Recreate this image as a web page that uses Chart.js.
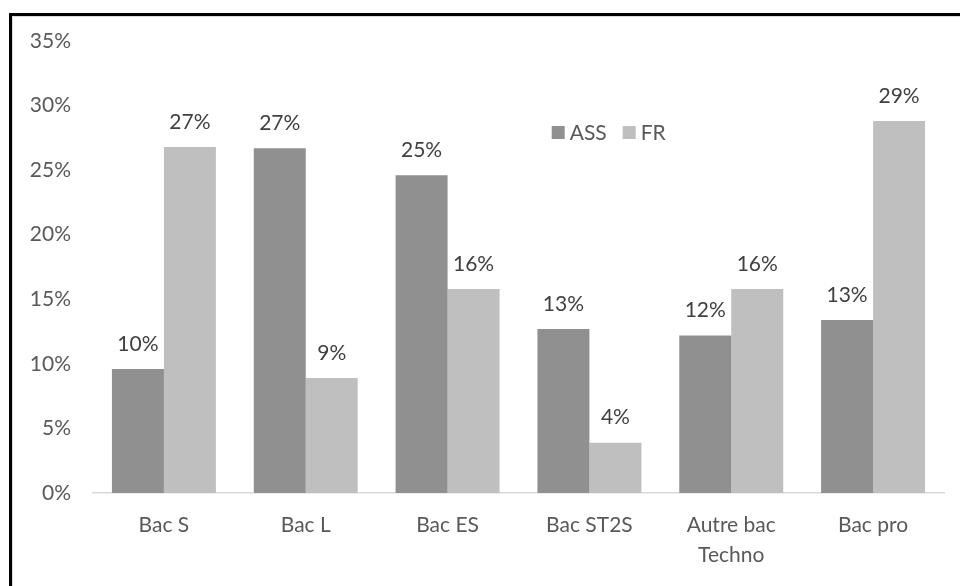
<!DOCTYPE html>
<html>
<head>
<meta charset="utf-8">
<script src="https://cdn.jsdelivr.net/npm/chart.js@4/dist/chart.umd.min.js"></script>
<style>
  html, body { margin: 0; padding: 0; background: #fff; overflow: hidden; }
  #wrap { position: relative; width: 960px; height: 586px; overflow: hidden; }
  #frame { position: absolute; left: 9px; top: 13px; width: 1100px; height: 1100px;
           border: 3px solid #000; box-shadow: inset 1px 1px 0 #d9d9d9; box-sizing: border-box; }
  #c { position: absolute; left: 0; top: 0; }
</style>
</head>
<body>
<div id="wrap">
  <div id="frame"></div>
  <canvas id="c" width="960" height="586"></canvas>
</div>
<script>
const categories = ["Bac S", "Bac L", "Bac ES", "Bac ST2S", ["Autre bac", "Techno"], "Bac pro"];
const seriesNames = ["ASS", "FR"];
const assValues = [9.6, 26.7, 24.6, 12.7, 12.2, 13.4];
const frValues = [26.8, 8.9, 15.8, 3.9, 15.8, 28.8];
const seriesColors = ["#909090", "#bfbfbf"];
const yTicks = [0, 5, 10, 15, 20, 25, 30, 35];

const FONT = "Lato, 'Noto Sans', sans-serif";

const dataLabelPlugin = {
  id: "dataLabels",
  afterDatasetsDraw(chart) {
    const ctx = chart.ctx;
    ctx.save();
    ctx.font = "21px " + FONT;
    ctx.fillStyle = "#404040";
    ctx.textAlign = "center";
    ctx.textBaseline = "middle";
    chart.data.datasets.forEach((ds, di) => {
      const meta = chart.getDatasetMeta(di);
      meta.data.forEach((bar, i) => {
        const v = ds.data[i];
        ctx.fillText(Math.round(v) + "%", bar.x, bar.y - 25);
      });
    });
    ctx.restore();
  }
};

const legendPlugin = {
  id: "insideLegend",
  afterDraw(chart) {
    const ctx = chart.ctx;
    const ca = chart.chartArea;
    let x = ca.left + (ca.right - ca.left) * 0.539;
    const y = ca.top + 91;
    ctx.save();
    ctx.font = "21px " + FONT;
    ctx.textBaseline = "middle";
    ctx.textAlign = "left";
    chart.data.datasets.forEach((ds) => {
      ctx.fillStyle = ds.backgroundColor;
      ctx.fillRect(x, y - 6, 13, 13);
      ctx.fillStyle = "#595959";
      ctx.fillText(ds.label, x + 18, y + 1);
      x += 18 + ctx.measureText(ds.label).width + 16;
    });
    ctx.restore();
  }
};

new Chart(document.getElementById("c"), {
  type: "bar",
  data: {
    labels: categories,
    datasets: [
      { label: seriesNames[0], data: assValues, backgroundColor: seriesColors[0] },
      { label: seriesNames[1], data: frValues, backgroundColor: seriesColors[1] }
    ]
  },
  options: {
    responsive: false,
    animation: false,
    devicePixelRatio: 1,
    layout: { padding: { left: 0, right: 16, top: 41, bottom: 0 } },
    datasets: { bar: { categoryPercentage: 0.733, barPercentage: 1.0 } },
    plugins: { legend: { display: false }, tooltip: { enabled: false } },
    scales: {
      x: {
        grid: { display: false, drawTicks: false },
        border: { display: true, color: "#d9d9d9", width: 1.5 },
        ticks: { color: "#595959", padding: 17, font: { family: FONT, size: 21, lineHeight: 1.45 }, maxRotation: 0, autoSkip: false },
        afterFit(scale) { scale.height = 93; }
      },
      y: {
        min: 0, max: 35,
        afterBuildTicks(scale) { scale.ticks = yTicks.map(v => ({ value: v })); },
        grid: { display: false, drawTicks: false },
        border: { display: false },
        ticks: { color: "#595959", padding: 22, font: { family: FONT, size: 21 }, callback: v => v + "%" },
        afterFit(scale) { scale.width = 93; }
      }
    }
  },
  plugins: [dataLabelPlugin, legendPlugin]
});
</script>
</body>
</html>
